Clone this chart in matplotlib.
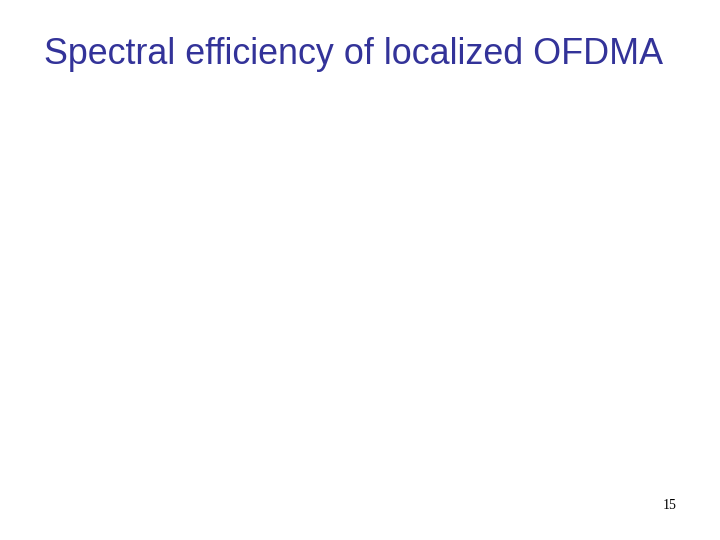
"""Slide: Spectral efficiency of localized OFDMA (title-only slide)."""

import matplotlib

matplotlib.use("Agg")
import matplotlib.pyplot as plt

title_text = "Spectral efficiency of localized OFDMA"
page_number = "15"

fig = plt.figure(figsize=(7.2, 5.4), dpi=100)
fig.patch.set_facecolor("white")

fig.text(
    353.5 / 720,
    1 - 64.5 / 540,
    title_text,
    ha="center",
    va="baseline",
    fontsize=25.8,
    color="#333399",
    family="Liberation Sans",
)
fig.text(
    670 / 720,
    1 - 509 / 540,
    page_number,
    ha="center",
    va="baseline",
    fontsize=10,
    color="black",
    family="Liberation Serif",
)

fig.savefig("out.png", dpi=100, facecolor="white")
